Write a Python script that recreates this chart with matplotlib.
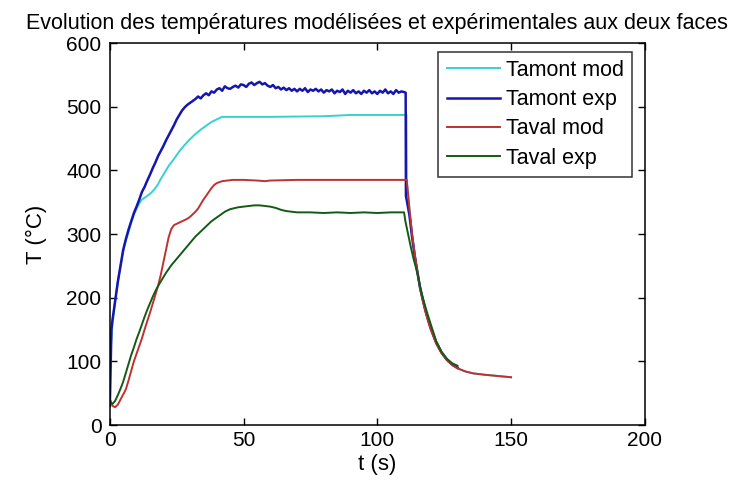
import matplotlib
matplotlib.use('Agg')
import matplotlib.pyplot as plt

plt.rcParams['font.family'] = ['Liberation Sans', 'DejaVu Sans']

# Tamont mod
t_amont_mod = [0, 0.5, 1, 2, 3, 4, 5, 6, 7, 8, 9, 10, 11, 12, 13, 14, 15, 16, 17, 18, 19, 20,
               22, 24, 26, 28, 30, 32, 34, 36, 38, 40, 42, 43, 60, 80, 90, 110.9,
               111, 112, 113, 114, 115, 116, 117, 118, 119, 120, 122, 124, 126, 128, 130,
               133, 136, 140, 145, 150]
T_amont_mod = [95, 130, 160, 195, 225, 250, 273, 290, 303, 318, 330, 340, 348, 354, 357, 360, 363,
               367, 372, 378, 386, 393, 407, 418, 430, 440, 449, 457, 464, 470, 476, 480, 484, 484,
               484, 485, 487, 487,
               385, 340, 300, 268, 240, 215, 195, 178, 163, 150, 128, 113, 102, 94, 89,
               84, 81, 79, 77, 75]

# Tamont exp
t_amont_exp = [0, 0.3, 0.6, 1, 2, 3, 4, 5, 6, 7, 8, 9, 10, 11, 12, 13, 14, 15, 16, 17, 18, 19,
               20, 21, 22, 23, 24, 25, 26, 27, 28, 29, 30, 31, 32, 33, 34, 35, 36, 37, 38, 39,
               40, 41, 42, 43, 44, 45, 46, 47, 48, 49, 50, 51, 52, 53, 54, 55, 56, 57, 58, 59,
               60, 61, 62, 63, 64, 65, 66, 67, 68, 69, 70, 71, 72, 73, 74, 75, 76, 77, 78, 79,
               80, 81, 82, 83, 84, 85, 86, 87, 88, 89, 90, 91, 92, 93, 94, 95, 96, 97, 98, 99,
               100, 101, 102, 103, 104, 105, 106, 107, 108, 109, 110, 110.6,
               110.7, 112, 113, 114, 115, 116, 118, 120, 122, 124, 126, 128, 130]
T_amont_exp = [30, 90, 150, 165, 195, 225, 250, 275, 292, 307, 320, 333, 343, 354, 366, 374, 384,
               393, 403, 412, 422, 430, 438, 447, 455, 463, 471, 480, 487, 494, 499, 503, 506,
               509, 512, 516, 513, 518, 521, 518, 524, 522, 527, 529, 525, 532, 529, 528, 531,
               533, 530, 535, 534, 531, 536, 538, 534, 537, 539, 535, 537, 533, 531, 534, 529,
               531, 527, 530, 526, 529, 525, 528, 524, 528, 525, 529, 523, 527, 525, 528, 524,
               527, 522, 526, 524, 527, 521, 525, 523, 527, 520, 525, 522, 526, 521, 524, 520,
               525, 522, 526, 521, 524, 520, 525, 522, 527, 521, 524, 520, 526, 522, 524, 523,
               522,
               360, 330, 295, 265, 240, 215, 180, 152, 130, 114, 103, 95, 90]

# Taval mod
t_aval_mod = [0, 1, 2, 3, 4, 5, 6, 7, 8, 9, 10, 11, 12, 13, 14, 15, 16, 17, 18, 19, 20, 21, 22,
              23, 24, 25, 26, 27, 28, 29, 30, 31, 32, 33, 34, 35, 36, 37, 38, 39, 40, 42, 44,
              46, 50, 55, 58, 60, 70, 80, 111,
              112, 113, 114, 115, 116, 117, 118, 119, 120, 122, 124, 126, 128, 130,
              133, 136, 140, 145, 150]
T_aval_mod = [40, 30, 28, 32, 40, 48, 56, 70, 85, 100, 112, 124, 136, 150, 163, 176, 190, 204,
              218, 235, 255, 275, 295, 308, 314, 316, 318, 320, 322, 324, 327, 331, 335, 340,
              347, 354, 360, 366, 372, 377, 380, 383, 384, 385, 385, 384, 383, 384, 385, 385, 385,
              340, 300, 268, 240, 215, 195, 178, 163, 150, 128, 113, 102, 94, 89,
              84, 81, 79, 77, 75]

# Taval exp
t_aval_exp = [0, 0.5, 1, 2, 3, 4, 5, 6, 7, 8, 9, 10, 11, 12, 13, 14, 15, 16, 17, 18, 19, 20,
              21, 22, 23, 24, 25, 26, 27, 28, 29, 30, 31, 32, 33, 34, 35, 36, 37, 38, 39, 40,
              41, 42, 43, 44, 45, 46, 48, 50, 52, 54, 56, 58, 60, 62, 64, 66, 68, 70, 75, 80,
              85, 90, 95, 100, 105, 110,
              110.5, 111.5, 112.5, 113.5, 115, 116, 117, 118.5, 120, 122, 124, 126, 128, 130]
T_aval_exp = [40, 35, 33, 38, 47, 57, 68, 82, 96, 110, 122, 135, 146, 158, 170, 181, 191, 201,
              210, 218, 225, 232, 239, 245, 251, 256, 261, 266, 271, 276, 281, 286, 291, 296,
              300, 304, 308, 312, 316, 320, 323, 326, 329, 332, 335, 337, 339, 340, 342, 343,
              344, 345, 345, 344, 343, 341, 338, 336, 335, 334, 334, 333, 334, 333, 334, 333,
              334, 334,
              320, 300, 280, 262, 238, 218, 200, 178, 158, 132, 115, 104, 97, 93]

fig = plt.figure(figsize=(7.42, 4.86), dpi=100)
ax = fig.add_axes([0.148, 0.1255, 0.721, 0.786])

ax.plot(t_amont_mod, T_amont_mod, color='#38d0d0', lw=1.4, label='Tamont mod')
ax.plot(t_amont_exp, T_amont_exp, color='#1515b0', lw=1.8, label='Tamont exp')
ax.plot(t_aval_mod, T_aval_mod, color='#c03030', lw=1.4, label='Taval mod')
ax.plot(t_aval_exp, T_aval_exp, color='#145a14', lw=1.4, label='Taval exp')

ax.set_xlim(0, 200)
ax.set_ylim(0, 600)
ax.set_xticks([0, 50, 100, 150, 200])
ax.set_yticks([0, 100, 200, 300, 400, 500, 600])
ax.tick_params(direction='in', top=True, right=True, labelsize=15, length=5, width=1)
ax.tick_params(axis='y', pad=6)
ax.tick_params(axis='x', pad=4)
for s in ax.spines.values():
    s.set_linewidth(1.1)

ax.set_xlabel('t (s)', fontsize=16, labelpad=3)
ax.set_ylabel('T (°C)', fontsize=16, labelpad=14)
ax.set_title('Evolution des températures modélisées et expérimentales aux deux faces',
             fontsize=15.5, pad=10)

leg = ax.legend(loc='upper right', bbox_to_anchor=(0.976, 0.977), borderaxespad=0,
                fancybox=False, edgecolor='black', fontsize=15.5, handlelength=2.5,
                handletextpad=0.25, labelspacing=0.38, borderpad=0.38)
leg.get_frame().set_linewidth(1.1)

fig.savefig('out.png', dpi=100)
